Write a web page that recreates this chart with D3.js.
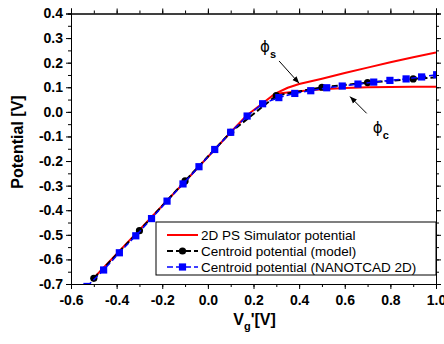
<!DOCTYPE html>
<html>
<head>
<meta charset="utf-8">
<script src="https://cdn.jsdelivr.net/npm/d3@7"></script>
<style>
  body { margin: 0; background: #fff; }
  svg { display: block; font-family: "Liberation Sans", Arial, sans-serif; }
</style>
</head>
<body>
<script>
// Datos
const X_TICKS = [-0.6, -0.4, -0.2, 0.0, 0.2, 0.4, 0.6, 0.8, 1.0];
const Y_TICKS = [0.4, 0.3, 0.2, 0.1, 0.0, -0.1, -0.2, -0.3, -0.4, -0.5, -0.6, -0.7];

// Simulador 2D PS: tramo lineal + rama phi_s (arriba) + rama phi_c (abajo)
const simLinX = [-0.5, -0.3, -0.1, 0.1, 0.17, 0.24, 0.295];
const simLinY = [-0.675, -0.48, -0.283, -0.083, -0.015, 0.035, 0.074];
const phiSX = [0.295, 0.35, 0.4, 0.5, 0.6, 0.7, 0.8, 0.9, 1.0];
const phiSY = [0.074, 0.098, 0.113, 0.135, 0.158, 0.18, 0.202, 0.222, 0.242];
const phiCX = [0.295, 0.35, 0.4, 0.5, 0.6, 0.7, 0.8, 0.9, 1.0];
const phiCY = [0.074, 0.079, 0.084, 0.092, 0.097, 0.1, 0.101, 0.102, 0.102];

// Centroide (modelo)
const modelX = [-0.5, -0.3, -0.1, 0.1, 0.3, 0.5, 0.7, 0.9, 1.1];
const modelY = [-0.677, -0.483, -0.281, -0.083, 0.066, 0.1, 0.119, 0.134, 0.147];

// Centroide (NANOTCAD 2D)
const nanoX = [-0.53, -0.457, -0.388, -0.316, -0.247, -0.179, -0.109, -0.039, 0.03, 0.1, 0.172,
  0.24, 0.311, 0.381, 0.451, 0.521, 0.589, 0.658, 0.727, 0.798, 0.869, 0.937, 1.003];
const nanoY = [-0.71, -0.643, -0.573, -0.504, -0.434, -0.363, -0.293, -0.223, -0.153, -0.083, -0.017,
  0.033, 0.058, 0.075, 0.086, 0.098, 0.105, 0.113, 0.121, 0.128, 0.134, 0.142, 0.151];

const LEGEND = ["2D PS Simulator potential", "Centroid potential (model)", "Centroid potential (NANOTCAD 2D)"];

const WIDTH = 444;
const HEIGHT = 344;
const MARGIN = { top: 13.5, bottom: 60, right: 8, left: 71 };
const WIDTHVIS = WIDTH - MARGIN.left - MARGIN.right;
const HEIGHTVIS = HEIGHT - MARGIN.top - MARGIN.bottom;

const RED = "#ff0000", BLUE = "#0000ff";

const svg = d3.select("body").append("svg")
  .attr("width", WIDTH)
  .attr("height", HEIGHT);

const defs = svg.append("defs");
defs.append("clipPath").attr("id", "clip")
  .append("rect").attr("width", WIDTHVIS).attr("height", HEIGHTVIS);

defs.append("marker")
  .attr("id", "flecha")
  .attr("viewBox", "0 0 10 10")
  .attr("refX", 10).attr("refY", 5)
  .attr("markerWidth", 7).attr("markerHeight", 7)
  .attr("markerUnits", "userSpaceOnUse")
  .attr("orient", "auto")
  .append("path").attr("d", "M0,1 L10,5 L0,9 Z").attr("fill", "#000");

const escalaX = d3.scaleLinear().domain([-0.6, 1.0]).range([0, WIDTHVIS]);
const escalaY = d3.scaleLinear().domain([-0.7, 0.4]).range([HEIGHTVIS, 0]);

const vis = svg.append("g").attr("transform", `translate(${MARGIN.left}, ${MARGIN.top})`);

// Ejes: marcas hacia afuera en los cuatro lados (mayores + menores)
const minX = d3.range(-0.6, 1.001, 0.1);
const minY = d3.range(-0.7, 0.401, 0.05);
const fmt = d => (Math.abs(d) < 1e-9 ? 0 : d).toFixed(1);

const gx = vis.append("g").attr("transform", `translate(0, ${HEIGHTVIS})`);
gx.call(d3.axisBottom(escalaX).tickValues(minX).tickSize(3).tickFormat(""));
gx.append("g").call(d3.axisBottom(escalaX).tickValues(X_TICKS).tickSize(5).tickPadding(6).tickFormat(fmt));

const gxTop = vis.append("g");
gxTop.call(d3.axisTop(escalaX).tickValues(minX).tickSize(3).tickFormat(""));
gxTop.append("g").call(d3.axisTop(escalaX).tickValues(X_TICKS).tickSize(5).tickFormat(""));

const gy = vis.append("g");
gy.call(d3.axisLeft(escalaY).tickValues(minY).tickSize(3).tickFormat(""));
gy.append("g").call(d3.axisLeft(escalaY).tickValues(Y_TICKS).tickSize(5).tickPadding(3).tickFormat(fmt));

const gyR = vis.append("g").attr("transform", `translate(${WIDTHVIS}, 0)`);
gyR.call(d3.axisRight(escalaY).tickValues(minY).tickSize(3).tickFormat(""));
gyR.append("g").call(d3.axisRight(escalaY).tickValues(Y_TICKS).tickSize(5).tickFormat(""));

vis.selectAll(".domain").attr("stroke", "#000").attr("stroke-width", 1);
vis.selectAll(".tick line").attr("stroke", "#000");
vis.selectAll(".tick text")
  .attr("font-family", "'Liberation Sans', Arial, sans-serif")
  .attr("font-size", 14).attr("font-weight", "bold").attr("fill", "#000");

// Títulos
svg.append("text")
  .attr("transform", `translate(23, 142) rotate(-90)`)
  .attr("text-anchor", "middle")
  .attr("font-size", 16).attr("font-weight", "bold")
  .text("Potential [V]");

const tx = svg.append("text")
  .attr("x", MARGIN.left + WIDTHVIS / 2 + 1).attr("y", 325)
  .attr("text-anchor", "middle")
  .attr("font-size", 16).attr("font-weight", "bold");
tx.append("tspan").text("V");
tx.append("tspan").attr("font-size", 11).attr("dy", 5).text("g");
tx.append("tspan").attr("dy", -5).text("'[V]");

// Series
const datos = vis.append("g").attr("clip-path", "url(#clip)");
const linea = d3.line().x(d => escalaX(d[0])).y(d => escalaY(d[1]));
const pares = (xs, ys) => xs.map((x, i) => [x, ys[i]]);

[pares(simLinX, simLinY), pares(phiSX, phiSY), pares(phiCX, phiCY)].forEach(p => {
  datos.append("path").datum(p).attr("d", linea)
    .attr("fill", "none").attr("stroke", RED).attr("stroke-width", 2)
    .attr("stroke-linejoin", "round");
});

const modelo = pares(modelX, modelY);
datos.append("path").datum(modelo).attr("d", linea)
  .attr("fill", "none").attr("stroke", "#000").attr("stroke-width", 2)
  .attr("stroke-dasharray", "6,3");
datos.selectAll("circle.modelo").data(modelo).join("circle")
  .attr("class", "modelo")
  .attr("cx", d => escalaX(d[0])).attr("cy", d => escalaY(d[1]))
  .attr("r", 3.6).attr("fill", "#000");

const nano = pares(nanoX, nanoY);
datos.append("path").datum(nano).attr("d", linea)
  .attr("fill", "none").attr("stroke", BLUE).attr("stroke-width", 1.5)
  .attr("stroke-dasharray", "6,3");
datos.selectAll("rect.nano").data(nano).join("rect")
  .attr("class", "nano")
  .attr("x", d => escalaX(d[0]) - 3.6).attr("y", d => escalaY(d[1]) - 3.6)
  .attr("width", 7.2).attr("height", 7.2).attr("fill", BLUE);

// Anotaciones phi_s y phi_c
const notas = [
  { tx: 0.229, ty: 0.243, sub: "s", x1: 0.312, y1: 0.207, x2: 0.4, y2: 0.116 },
  { tx: 0.723, ty: -0.086, sub: "c", x1: 0.696, y1: -0.006, x2: 0.623, y2: 0.062 },
];
notas.forEach(n => {
  const t = vis.append("text")
    .attr("x", escalaX(n.tx)).attr("y", escalaY(n.ty))
    .attr("font-family", "'DejaVu Sans', sans-serif")
    .attr("font-size", 15);
  t.append("tspan").text("\u03d5");
  t.append("tspan").attr("font-family", "'Liberation Sans', Arial, sans-serif")
    .attr("font-size", 11).attr("font-weight", "bold").attr("dy", 6).text(n.sub);
  vis.append("line")
    .attr("x1", escalaX(n.x1)).attr("y1", escalaY(n.y1))
    .attr("x2", escalaX(n.x2)).attr("y2", escalaY(n.y2))
    .attr("stroke", "#000").attr("stroke-width", 1)
    .attr("marker-end", "url(#flecha)");
});

// Leyenda
const leyenda = svg.append("g").attr("transform", "translate(156, 222)");
leyenda.append("rect")
  .attr("width", MARGIN.left + WIDTHVIS - 156).attr("height", 53)
  .attr("fill", "#fff").attr("stroke", "#000").attr("stroke-width", 1);
const filas = leyenda.selectAll("g.fila").data(LEGEND).join("g")
  .attr("class", "fila")
  .attr("transform", (d, i) => `translate(0, ${13 + i * 16})`);
filas.append("line")
  .attr("x1", 11).attr("x2", 42).attr("y1", 0).attr("y2", 0)
  .attr("stroke", (d, i) => [RED, "#000", BLUE][i])
  .attr("stroke-width", (d, i) => [2, 2, 1.5][i])
  .attr("stroke-dasharray", (d, i) => i === 0 ? null : "6,3");
filas.filter((d, i) => i === 1).append("circle")
  .attr("cx", 26.5).attr("cy", 0).attr("r", 3.6).attr("fill", "#000");
filas.filter((d, i) => i === 2).append("rect")
  .attr("x", 22.9).attr("y", -3.6).attr("width", 7.2).attr("height", 7.2).attr("fill", BLUE);
filas.append("text")
  .attr("x", 45).attr("y", 0).attr("dy", "0.35em")
  .attr("font-size", 13.5)
  .text(d => d);
</script>
</body>
</html>
